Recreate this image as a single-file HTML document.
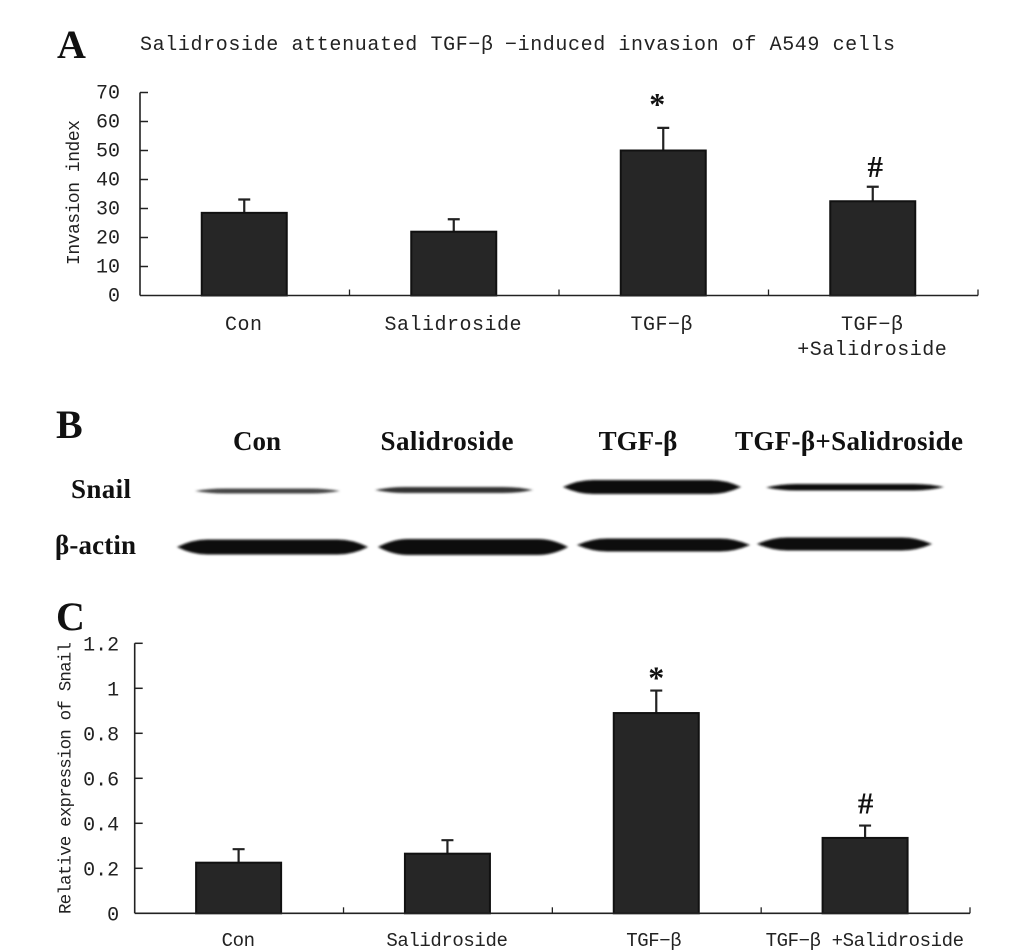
<!DOCTYPE html>
<html lang="en">
<head>
<meta charset="utf-8">
<title>Salidroside attenuated TGF-β-induced invasion of A549 cells</title>
<style>
html,body{margin:0;padding:0;background:#fff;width:1033px;height:952px;overflow:hidden}
svg{display:block}
.mono{font-family:"Liberation Mono",monospace;fill:#222}
.serif{font-family:"Liberation Serif",serif;font-weight:bold;fill:#111}
</style>
</head>
<body>
<svg id="figure" width="1033" height="952" viewBox="0 0 1033 952" xmlns="http://www.w3.org/2000/svg">
<defs>
<filter id="blur-soft" x="-10%" y="-100%" width="120%" height="300%"><feGaussianBlur stdDeviation="1.2 1"/></filter>
</defs>
<rect width="1033" height="952" fill="#fff"/>

<text class="serif" x="57" y="58" font-size="40">A</text>
<text class="serif" x="56" y="438" font-size="40">B</text>
<text class="serif" x="56" y="630" font-size="40">C</text>

<g>
<text class="mono" x="140" y="50" font-size="20" textLength="353" lengthAdjust="spacing">Salidroside attenuated TGF−β</text>
<text class="mono" x="505" y="50" font-size="20" textLength="390" lengthAdjust="spacing">−induced invasion of A549 cells</text>
</g>

<g id="chart-a"></g>

<g>
<text class="serif" x="257" y="450" font-size="27" text-anchor="middle">Con</text>
<text class="serif" x="447" y="450" font-size="27" text-anchor="middle" textLength="133">Salidroside</text>
<text class="serif" x="638" y="450" font-size="27" text-anchor="middle">TGF-β</text>
<text class="serif" x="849" y="450" font-size="27" text-anchor="middle" textLength="228">TGF-β+Salidroside</text>
<text class="serif" x="71" y="498" font-size="27" textLength="60">Snail</text>
<text class="serif" x="55" y="554" font-size="27" textLength="81">β-actin</text>
<g filter="url(#blur-soft)">
<path d="M195 491Q210 488.5 225 488.5H310Q325 488.5 340 491Q325 493.5 310 493.5H225Q210 493.5 195 491Z" fill="#444"/>
<path d="M375 490Q390 487 405 487H503Q518 487 533 490Q518 493 503 493H405Q390 493 375 490Z" fill="#333"/>
<path d="M563 487Q578 480 593 480H711Q726 480 741 487Q726 494 711 494H593Q578 494 563 487Z" fill="#0f0f0f"/>
<path d="M766 487.5Q781 484 796 484H914Q929 484 944 487Q929 490.5 914 490.5H796Q781 490.5 766 487.5Z" fill="#111"/>
<path d="M177 547Q192 539.5 207 539.5H338Q353 539.5 368 547Q353 554.5 338 554.5H207Q192 554.5 177 547Z" fill="#0e0e0e"/>
<path d="M378 547Q393 539 408 539H538Q553 539 568 547Q553 555 538 555H408Q393 555 378 547Z" fill="#0e0e0e"/>
<path d="M577 545Q592 538.5 607 538.5H720Q735 538.5 750 545Q735 551.5 720 551.5H607Q592 551.5 577 545Z" fill="#0f0f0f"/>
<path d="M757 544Q772 537.5 787 537.5H902Q917 537.5 932 544Q917 550.5 902 550.5H787Q772 550.5 757 544Z" fill="#0f0f0f"/>
</g>
</g>

<g id="chart-c"></g>
</svg>

<script>
const NS = 'http://www.w3.org/2000/svg';

// Chart A data
const invasionCategories = [['Con'], ['Salidroside'], ['TGF−β'], ['TGF−β', '+Salidroside']];
const invasionValues = [28.5, 22, 50, 32.5];
const invasionErrors = [4.6, 4.3, 7.8, 5];
const invasionMarks = ['', '', '*', '#'];
const invasionTickValues = [0, 10, 20, 30, 40, 50, 60, 70];
const invasionTickLabels = ['0', '10', '20', '30', '40', '50', '60', '70'];

// Chart C data
const snailCategories = [['Con'], ['Salidroside'], ['TGF−β'], ['TGF−β +Salidroside']];
const snailValues = [0.225, 0.265, 0.89, 0.335];
const snailErrors = [0.06, 0.06, 0.1, 0.055];
const snailMarks = ['', '', '*', '#'];
const snailTickValues = [0, 0.2, 0.4, 0.6, 0.8, 1, 1.2];
const snailTickLabels = ['0', '0.2', '0.4', '0.6', '0.8', '1', '1.2'];

function make(tag, attrs, parent, text) {
  const el = document.createElementNS(NS, tag);
  for (const k in attrs) el.setAttribute(k, attrs[k]);
  if (text !== undefined) el.textContent = text;
  parent.appendChild(el);
  return el;
}

function drawChart(root, prefix, cfg, categories, values, errors, marks, tickValues, tickLabels) {
  const yScale = v => cfg.y0 + (cfg.yTop - cfg.y0) * v / cfg.yMax;
  const step = (cfg.xEnd - cfg.x0) / categories.length;
  const xCenter = i => cfg.x0 + step * (i + 0.5);

  // bars and error bars
  values.forEach((v, i) => {
    const cx = xCenter(i) - 0.5;
    const top = yScale(v);
    const errTop = yScale(v + errors[i]);
    const err = make('path', {
      d: 'M' + cx + ' ' + top + 'V' + errTop + 'M' + (cx - 6) + ' ' + errTop + 'H' + (cx + 6),
      fill: 'none', stroke: '#222', 'stroke-width': 2.2
    }, root);
    
    
    const bar = make('rect', {
      x: cx - cfg.barW / 2, y: top, width: cfg.barW, height: cfg.y0 - top,
      fill: '#262626', stroke: '#111', 'stroke-width': 2
    }, root);
    
    
    if (marks[i]) {
      const isStar = marks[i] === '*';
      const mark = make('text', {
        x: isStar ? cx + cfg.starShift : cx + cfg.hashShift,
        y: errTop - (isStar ? cfg.starGap : cfg.hashGap),
        'font-size': isStar ? 32 : 31,
        'text-anchor': isStar ? 'start' : 'middle',
        class: 'serif'
      }, root, marks[i]);
      
      
    }
  });

  // axes
  const yAxis = make('line', { x1: cfg.x0, x2: cfg.x0, y1: cfg.yTop, y2: cfg.y0, stroke: '#222', 'stroke-width': 1.6 }, root);
  
  
  const xAxis = make('line', { x1: cfg.x0, x2: cfg.xEnd, y1: cfg.y0, y2: cfg.y0, stroke: '#222', 'stroke-width': 1.6 }, root);
  
  

  // y ticks and labels
  tickValues.forEach((v, i) => {
    const y = yScale(v);
    if (v !== 0) {
      const tick = make('line', { x1: cfg.x0, x2: cfg.x0 + 8, y1: y, y2: y, stroke: '#222', 'stroke-width': 1.5 }, root);
      
      
    }
    const lab = make('text', {
      x: cfg.x0 - cfg.labelGap, y: y + cfg.tickDy, 'text-anchor': 'end',
      'font-size': cfg.tickSize, class: 'mono'
    }, root, tickLabels[i]);
    
    
  });

  // x ticks and labels
  categories.forEach((lines, i) => {
    const tx = cfg.x0 + step * (i + 1);
    const tick = make('line', { x1: tx, x2: tx, y1: cfg.y0 - 6, y2: cfg.y0, stroke: '#222', 'stroke-width': 1.3 }, root);
    
    
    lines.forEach((line, j) => {
      const lab = make('text', {
        x: xCenter(i) + cfg.xLabelShift[i], y: cfg.xLabelY + j * 25, 'text-anchor': 'middle',
        'font-size': cfg.catSize, class: 'mono',
        style: 'letter-spacing:' + cfg.catSpacing + 'px'
      }, root, line);
      
      
    });
  });

  // y title
  const title = make('text', {
    x: 0, y: 0, 'text-anchor': 'middle', 'font-size': cfg.titleSize, class: 'mono',
    transform: 'translate(' + cfg.titleX + ' ' + cfg.titleY + ') rotate(-90)',
    textLength: cfg.titleLen, lengthAdjust: 'spacing'
  }, root, cfg.title);
  
  
}

drawChart(document.getElementById('chart-a'), 'invasion', {
  x0: 140, xEnd: 978, y0: 295.5, yTop: 92.5, yMax: 70, barW: 85,
  labelGap: 20, tickSize: 20, tickDy: 6, catSize: 20, catSpacing: 0.5,
  xLabelY: 330, xLabelShift: [-1, -1, -2, -1], starGap: 13, hashGap: 10,
  starShift: -14, hashShift: 2.5,
  title: 'Invasion index', titleX: 79, titleY: 192.5, titleLen: 145, titleSize: 18
}, invasionCategories, invasionValues, invasionErrors, invasionMarks, invasionTickValues, invasionTickLabels);

drawChart(document.getElementById('chart-c'), 'snail', {
  x0: 134.7, xEnd: 970, y0: 913.3, yTop: 643.3, yMax: 1.2, barW: 85,
  labelGap: 15.5, tickSize: 20, tickDy: 7, catSize: 19, catSpacing: -0.4,
  xLabelY: 946, xLabelShift: [-1, -1, -3, -1], starGap: 2, hashGap: 12,
  starShift: -8, hashShift: 0.5,
  title: 'Relative expression of Snail', titleX: 70.5, titleY: 778, titleLen: 272, titleSize: 17.5
}, snailCategories, snailValues, snailErrors, snailMarks, snailTickValues, snailTickLabels);
</script>
</body>
</html>
